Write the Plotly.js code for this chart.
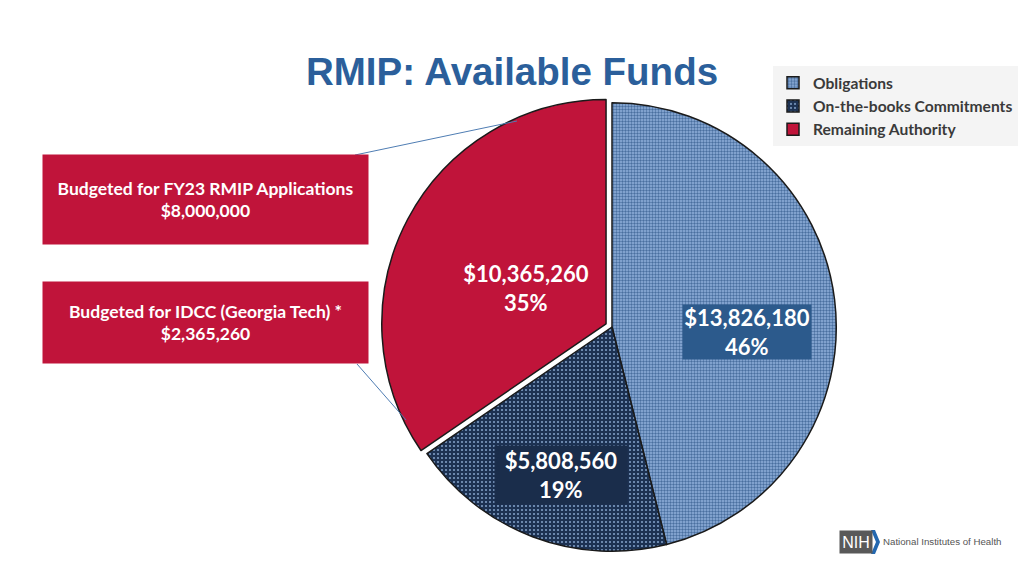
<!DOCTYPE html>
<html>
<head>
<meta charset="utf-8">
<script src="https://cdn.plot.ly/plotly-3.0.1.min.js"></script>
<style>html,body{margin:0;padding:0;background:#fff;}#chart{width:1024px;height:576px;}</style>
</head>
<body>
<div id="chart"></div>
<script>
// ---- data ----
const categories = ["Obligations", "On-the-books Commitments", "Remaining Authority"];
const amounts = [13826180, 5808560, 10365260];
const budgetLabels = ["Budgeted for FY23 RMIP Applications", "Budgeted for IDCC (Georgia Tech) *"];
const budgetAmounts = [8000000, 2365260];
const chartTitle = "RMIP: Available Funds";

// ---- helpers ----
const total = amounts.reduce((a, b) => a + b, 0);
const money = v => "$" + v.toLocaleString("en-US");
const pct = v => Math.round(100 * v / total) + "%";
const W = 1024, H = 576;
const px = x => x / W, py = y => 1 - y / H;

const red = "#c0143a";
const font = "Lato, 'Open Sans', sans-serif";

const trace = {
  type: "pie",
  labels: categories,
  values: amounts,
  sort: false,
  direction: "clockwise",
  rotation: 0,
  pull: [0, 0, 0.03],
  textinfo: "none",
  hoverinfo: "label+value+percent",
  domain: {x: [px(381), px(843)], y: [py(558), py(96)]},
  marker: {
    colors: ["#86a6d2", "#1d3557", red],
    line: {color: "#1a1a1a", width: 1.5},
    pattern: {
      shape: [".", ".", ""],
      fgcolor: ["#4a6f9f", "#7e9cc4", red],
      bgcolor: ["#92b2dd", "#1c3152", red],
      size: [3, 4, 4],
      solidity: [0.5, 0.22, 0.3],
      fillmode: "replace"
    }
  }
};

const annotations = [
  // slice value labels
  {x: px(747), y: py(332), text: money(amounts[0]) + "<br>" + pct(amounts[0]),
   bgcolor: "#2c5a8c", width: 128, height: 54},
  {x: px(561), y: py(475), text: money(amounts[1]) + "<br>" + pct(amounts[1]),
   bgcolor: "#1a2d4b", width: 132, height: 58},
  {x: px(526), y: py(288), text: money(amounts[2]) + "<br>" + pct(amounts[2]),
   width: 130, height: 52}
].map(a => Object.assign({
  xref: "paper", yref: "paper", showarrow: false, xanchor: "center", yanchor: "middle",
  font: {family: font, size: 22, color: "#ffffff", weight: "bold"}, borderpad: 0
}, a));

// budget boxes
const boxCenters = [[205.5, 199.5, 89], [205.5, 322.5, 81]];
budgetLabels.forEach((lab, i) => {
  annotations.push({
    xref: "paper", yref: "paper", showarrow: false,
    x: px(boxCenters[i][0]), y: py(boxCenters[i][1]), xanchor: "center", yanchor: "middle",
    text: lab + "<br>" + money(budgetAmounts[i]),
    bgcolor: red, width: 325, height: boxCenters[i][2], borderpad: 0,
    font: {family: font, size: 17.5, color: "#ffffff", weight: "bold"}
  });
});

// NIH logo
annotations.push({
  xref: "paper", yref: "paper", showarrow: false, x: px(856), y: py(542),
  xanchor: "center", yanchor: "middle", text: "NIH", bgcolor: "#595959",
  width: 32, height: 22, borderpad: 0,
  font: {family: "Liberation Sans, Arial, sans-serif", size: 16, color: "#ffffff"}
});
annotations.push({
  xref: "paper", yref: "paper", showarrow: false, x: px(881), y: py(541),
  xanchor: "left", yanchor: "middle", text: "National Institutes of Health",
  font: {family: "Liberation Sans, Arial, sans-serif", size: 9.7, color: "#555555"}
});

const shapes = [
  {type: "line", xref: "paper", yref: "paper", x0: px(355), y0: py(155), x1: px(517), y1: py(121),
   line: {color: "#4f7db3", width: 1}},
  {type: "line", xref: "paper", yref: "paper", x0: px(357), y0: py(364), x1: px(406), y1: py(420),
   line: {color: "#4f7db3", width: 1}},
  {type: "path", xref: "paper", yref: "paper",
   path: `M ${px(871)} ${py(530)} L ${px(875)} ${py(530)} L ${px(880)} ${py(542)} L ${px(875)} ${py(554)} L ${px(871)} ${py(554)} L ${px(876)} ${py(542)} Z`,
   fillcolor: "#2468b0", line: {width: 0}}
];

const layout = {
  width: W, height: H,
  margin: {l: 0, r: 0, t: 0, b: 0},
  paper_bgcolor: "#ffffff",
  title: {
    text: chartTitle, x: px(512), y: py(72), xanchor: "center", yanchor: "middle",
    font: {family: "Liberation Sans, Arial, sans-serif", size: 38.5, color: "#2b5f9b", weight: "bold"}
  },
  showlegend: true,
  legend: {
    x: px(773), y: py(66), xanchor: "left", yanchor: "top",
    bgcolor: "#f4f4f4", borderwidth: 0,
    font: {family: font, size: 15.6, color: "#3a3a3a", weight: "bold"},
    traceorder: "normal", itemclick: false
  },
  annotations: annotations,
  shapes: shapes
};

Plotly.newPlot("chart", [trace], layout, {displayModeBar: false, staticPlot: true});
</script>
</body>
</html>
